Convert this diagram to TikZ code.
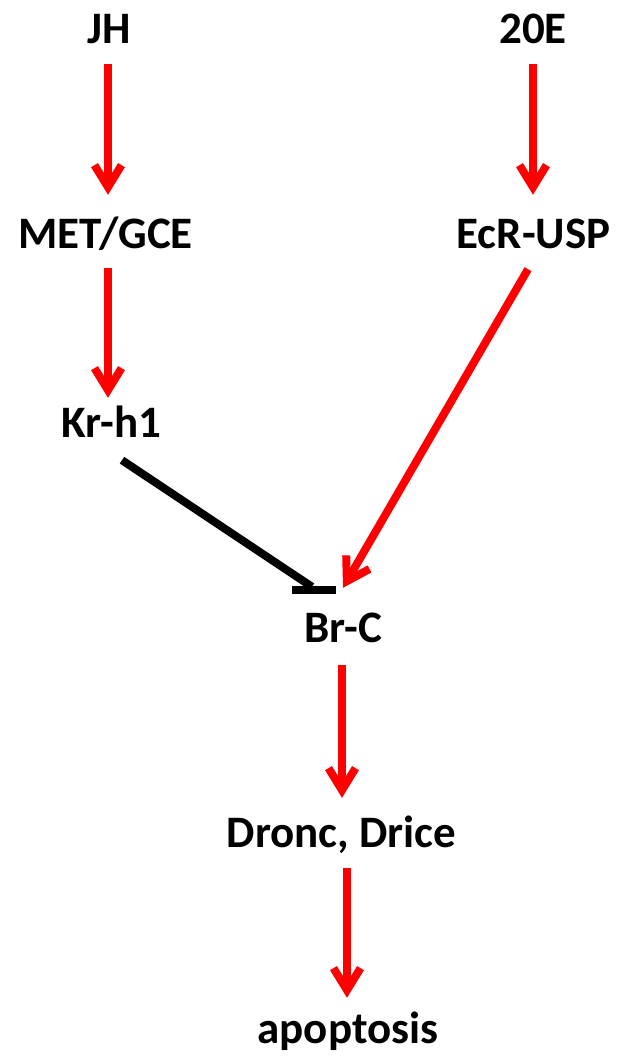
\documentclass[tikz,border=0pt]{standalone}
\usepackage{fontspec}
\setmainfont{Carlito}
\usetikzlibrary{arrows.meta}
\definecolor{actred}{RGB}{255,0,0}
\begin{document}
\begin{tikzpicture}[x=1pt,y=-1pt,
  lbl/.style={inner sep=0pt,anchor=base,text height=29pt,text depth=0pt,
    font=\fontsize{45}{54}\selectfont\bfseries},
  act/.style={draw=actred,line width=8pt,
    -{Straight Barb[length=22pt,width=27pt]}},
  inh/.style={draw=black,line width=8pt}]
\useasboundingbox (0,0) rectangle (616,1059);
\node[lbl] (jh)   at (109,44)  {JH};
\node[lbl] (ecd)  at (533,44)  {20E};
\node[lbl] (met)  at (105.5,248) {MET/GCE};
\node[lbl] (ecr)  at (533.5,248) {EcR-USP};
\node[lbl] (kr)   at (111,437) {Kr-h1};
\node[lbl] (brc)  at (343,642) {Br-C};
\node[lbl] (dro)  at (341.5,847) {Dronc, Drice};
\node[lbl] (apo)  at (348,1043) {apoptosis};
% activating arrows
\draw[act,shorten <=20pt,shorten >=24pt] ([xshift=-1pt]jh.south) -- ([xshift=-1pt]jh.south |- met.north);
\draw[act,shorten <=20pt,shorten >=24pt] (ecd.south) -- (ecd.south |- ecr.north);
\draw[act,shorten <=20pt,shorten >=10pt] ([xshift=-3pt]kr.south |- met.south) -- ([xshift=-3pt]kr.north);
\draw[act] ([xshift=-5.5pt,yshift=-21pt]ecr.south) -- ([yshift=25pt]brc.north);
\draw[act,shorten <=23pt,shorten >=20pt] ([xshift=-1pt]brc.south) -- ([xshift=-1pt]brc.south |- dro.north);
\draw[act,shorten <=21pt,shorten >=16pt] ([xshift=-1pt]apo.north |- dro.south) -- ([xshift=-1pt]apo.north);
% inhibition
\draw[inh] ([xshift=11pt,yshift=-23pt]kr.south) -- ([xshift=-31pt,yshift=26pt]brc.north);
\draw[inh] ([xshift=-51pt,yshift=23pt]brc.north) -- ([xshift=-7pt,yshift=23pt]brc.north);
\end{tikzpicture}
\end{document}
